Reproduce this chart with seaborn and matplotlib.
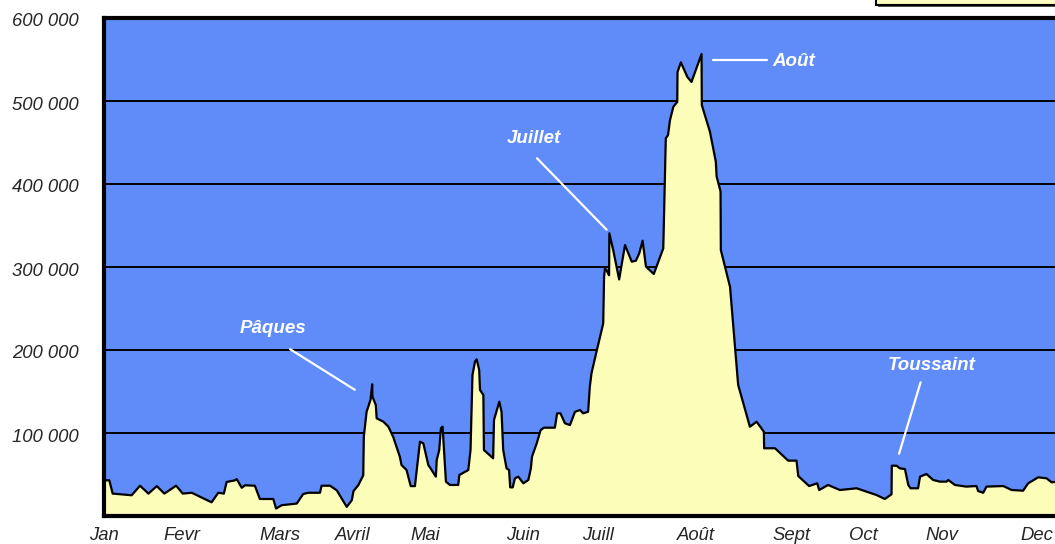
import matplotlib
matplotlib.use("Agg")
import matplotlib.pyplot as plt
from matplotlib.patches import Rectangle
from matplotlib.transforms import ScaledTranslation
import seaborn as sns
import pandas as pd

# Daily attendance over the year (day of year, visitors)
days = [0, 1.9, 3.1, 9.9, 12.9, 15.9, 18.9, 21.6, 25.8, 28.2, 31.4, 38.5, 40.9, 42.9,
        43.9, 46.9, 47.5, 49.3, 50.5, 54.0, 55.8, 60.6, 61.6, 63.6, 69.0, 71.3, 73.1,
        77.3, 77.9, 80.9, 83.3, 86.9, 88.7, 89.3, 91.0, 92.8, 93.0, 94.0, 95.4, 96.0,
        96.1, 97.3, 97.6, 100.0, 101.8, 103.5, 104.7, 105.9, 106.5, 108.3, 109.8,
        111.3, 113.1, 114.3, 116.1, 116.9, 118.8, 119.1, 120.0, 120.6, 121.2, 122.4,
        123.8, 126.8, 127.2, 130.4, 131.2, 131.9, 132.8, 133.4, 134.3, 134.6, 135.8,
        136.0, 139.3, 139.6, 141.5, 142.3, 142.9, 144.1, 145.0, 145.4, 146.3, 147.1,
        148.3, 150.1, 151.9, 152.8, 153.2, 154.9, 156.3, 157.5, 161.4, 162.2, 163.4,
        165.0, 166.8, 168.6, 170.4, 171.5, 173.3, 173.9, 174.5, 176.3, 178.7, 178.8,
        179.0, 179.3, 179.9, 180.8, 180.9, 182.3, 184.4, 186.5, 188.9, 190.4, 191.6,
        192.8, 194.0, 196.8, 200.2, 201.1, 201.9, 202.6, 203.8, 205.2, 205.3, 206.5,
        208.8, 210.3, 213.9, 214.0, 216.9, 219.0, 219.3, 220.7, 220.8, 224.1, 227.0,
        231.2, 233.6, 236.2, 236.3, 240.2, 244.9, 247.9, 248.5, 252.4, 255.3, 256.0,
        259.2, 263.4, 269.4, 276.5, 279.5, 281.9, 282.0, 283.7, 284.9, 286.7, 287.9,
        288.7, 291.4, 292.1, 294.4, 296.8, 299.2, 301.6, 302.2, 304.6, 308.7, 312.3,
        312.9, 314.7, 315.9, 321.9, 324.9, 329.0, 330.8, 334.4, 337.4, 339.2, 344.0]
visitors = [43000, 43000, 27000, 25000, 36500, 27000, 36000, 27000, 36500, 27000, 28000,
            16500, 28000, 27000, 41000, 43000, 44500, 34000, 37000, 36500, 20500, 20500,
            9000, 13000, 15000, 26500, 28000, 28000, 36500, 36500, 31000, 11000, 19000,
            30000, 37000, 49000, 95500, 125600, 140000, 158700, 143700, 133700, 117700,
            113600, 107600, 95500, 83500, 71400, 61400, 55400, 36000, 36000, 89500,
            87600, 61400, 57400, 47400, 67500, 79500, 105700, 107600, 41400, 37400,
            37400, 49400, 55400, 79500, 170000, 186000, 188800, 176000, 151800, 145800,
            79500, 69500, 115700, 137700, 125600, 79500, 57400, 55400, 34500, 34500,
            45400, 47400, 39400, 43400, 57400, 71400, 87600, 103600, 106400, 106400,
            123700, 123700, 111700, 109600, 125600, 127700, 123700, 125600, 155800,
            172000, 198000, 232000, 250000, 288000, 298000, 296000, 290000, 340600,
            320000, 285000, 326500, 306400, 307600, 316500, 331700, 300400, 291600,
            322500, 455000, 459000, 477000, 493000, 499000, 535000, 546600, 529000,
            523000, 556600, 495000, 463000, 427000, 409000, 391000, 320500, 276000,
            158000, 107600, 113600, 101600, 81600, 81600, 66700, 66700, 48200, 36100,
            39400, 31300, 37400, 31300, 33400, 25300, 20500, 26200, 60600, 60600,
            57400, 56600, 37400, 33400, 33400, 47400, 50600, 43400, 41400, 41400,
            43400, 37400, 35400, 36100, 30100, 28000, 35400, 36100, 31300, 30500,
            39400, 46600, 45400, 40600, 42000]

month_pos = [0, 28, 63, 89, 115, 150, 177, 212, 246, 272, 300, 334]
month_labels = ["Jan", "Fevr", "Mars", "Avril", "Mai", "Juin", "Juill", "Août",
                "Sept", "Oct", "Nov", "Dec"]
y_ticks = [100000, 200000, 300000, 400000, 500000, 600000]
y_labels = ["100 000", "200 000", "300 000", "400 000", "500 000", "600 000"]

# Holiday labels: (text, text x, text y, line start, line end, alignment)
holidays = [
    ("Pâques", 60.5, 226000, (66.6, 201000), (89.8, 152000), "center"),
    ("Juillet", 153.9, 455000, (155.0, 431000), (179.9, 345000), "center"),
    ("Août", 239.4, 547000, (217.9, 549000), (237.2, 549000), "left"),
    ("Toussaint", 296.3, 181500, (292.3, 161000), (284.6, 75000), "center"),
]

sns.set_style("white")
plt.rcParams["font.family"] = ["Liberation Sans", "DejaVu Sans"]

BLUE = "#608CFA"
YELLOW = "#FDFDBA"

fig = plt.figure(figsize=(10.55, 5.44), dpi=100)
ax = fig.add_axes([104 / 1055, 28 / 544, 961 / 1055, 498 / 544])
ax.set_facecolor(BLUE)

df = pd.DataFrame({"jour": days, "visiteurs": visitors})

for y in y_ticks[:-1]:
    ax.axhline(y, color="black", lw=1.4, zorder=1)

ax.fill_between(df["jour"], df["visiteurs"], 0, color=YELLOW, zorder=2, lw=0)
sns.lineplot(data=df, x="jour", y="visiteurs", color="black", lw=1.6,
             sort=False, ax=ax, zorder=3)

for text, tx, ty, p0, p1, ha in holidays:
    ax.plot([p0[0], p1[0]], [p0[1], p1[1]], color="white", lw=1.6, zorder=4)
    ax.text(tx, ty, text, color="white", fontsize=13.5, fontweight="bold",
            fontstyle="italic", ha=ha, va="center", zorder=5)

ax.set_xlim(0, 344)
ax.set_ylim(0, 600000)
ax.set_xticks(month_pos)
ax.set_xticklabels(month_labels, fontstyle="italic", fontsize=13.3)
ax.set_yticks(y_ticks)
ax.set_yticklabels(y_labels, fontstyle="italic", fontsize=13.3)
ax.tick_params(axis="y", length=0, pad=18)
ax.tick_params(axis="x", length=0, pad=8)
ax.set_xlabel("")
ax.set_ylabel("")
ax.grid(False)

# nudge value labels slightly below their gridlines
shift = ScaledTranslation(0, -2 / 100, fig.dpi_scale_trans)
for lab in ax.get_yticklabels():
    lab.set_transform(lab.get_transform() + shift)

for side in ["left", "bottom", "top", "right"]:
    ax.spines[side].set_color("black")
    ax.spines[side].set_linewidth(3)
    ax.spines[side].set_visible(True)

# Legend box peeking in at the top right
fig.patches.append(Rectangle((878 / 1055, 537 / 544), 0.2, 0.05,
                             transform=fig.transFigure, facecolor="#555555",
                             edgecolor="none", zorder=0))
fig.patches.append(Rectangle((876 / 1055, 539 / 544), 0.2, 0.05,
                             transform=fig.transFigure, facecolor="#FFFFC0",
                             edgecolor="black", lw=1.5, zorder=1))

fig.savefig("out.png", dpi=100)
